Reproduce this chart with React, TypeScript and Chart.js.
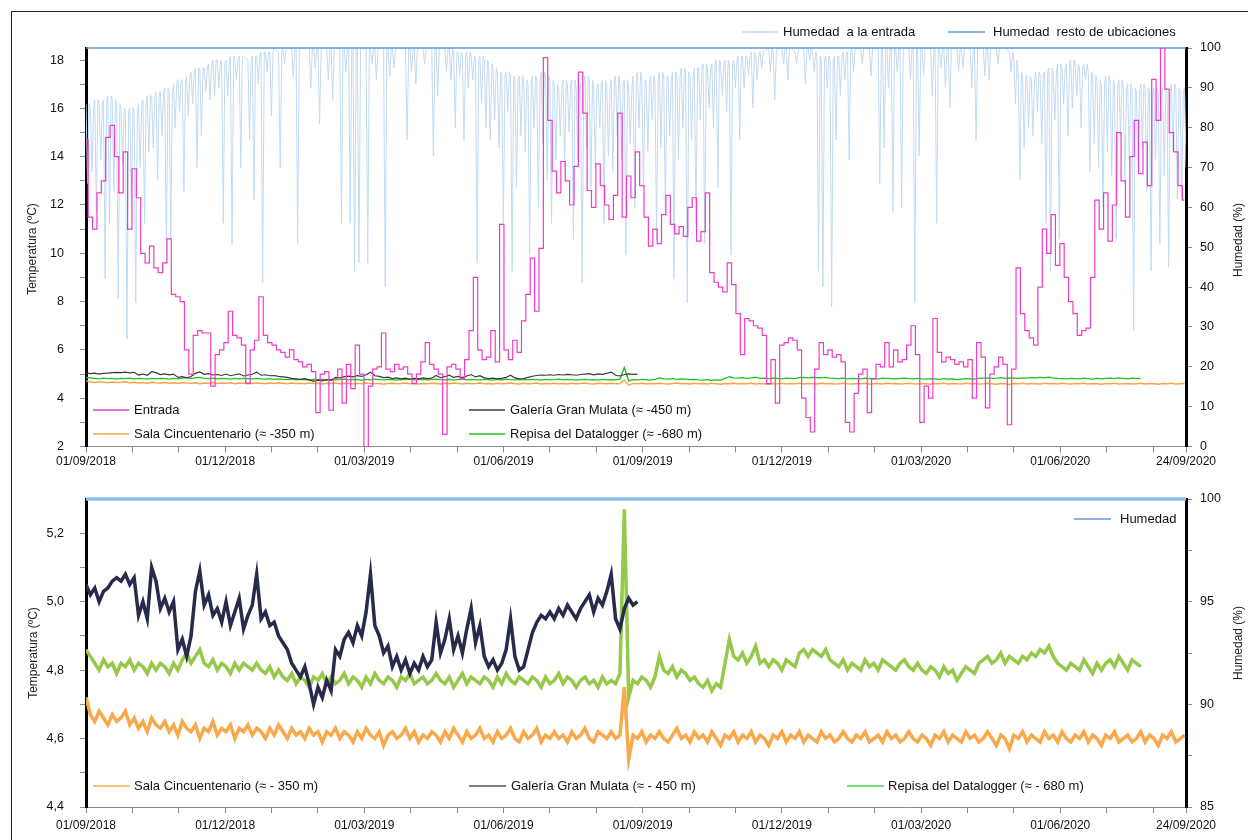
import React, { useEffect, useRef } from 'react';
import { Chart, registerables } from 'chart.js';

Chart.register(...registerables);

const FONT = '"Liberation Sans", Arial, Helvetica, sans-serif';
Chart.defaults.font.family = FONT;
Chart.defaults.color = '#222';

// ---------- DATA ----------
// one sample every DAY_STEP days, starting 01/09/2018
const DAY_STEP = 3;
const TOTAL_DAYS = 754; // 01/09/2018 -> 24/09/2020
const X_MINOR_STEP = 31.8; // days between axis tick marks

const xTickLabels = [
  '01/09/2018', '01/12/2018', '01/03/2019', '01/06/2019', '01/09/2019',
  '01/12/2019', '01/03/2020', '01/06/2020', '24/09/2020',
];

const seriesNames = {
  entrada: 'Entrada',
  humEntrada: 'Humedad  a la entrada',
  humResto: 'Humedad  resto de ubicaciones',
  salaTop: 'Sala Cincuentenario (≈ -350 m)',
  galeriaTop: 'Galería Gran Mulata (≈ -450 m)',
  repisaTop: 'Repisa del Datalogger (≈ -680 m)',
  salaBottom: 'Sala Cincuentenario (≈ - 350 m)',
  galeriaBottom: 'Galería Gran Mulata (≈ - 450 m)',
  repisaBottom: 'Repisa del Datalogger (≈ - 680 m)',
  humBottom: 'Humedad',
};

// Temperatura a la entrada (ºC)
const entradaTemp = [
  14.7, 11.5, 11.0, 12.5, 13.0, 14.8, 15.3, 14.0, 12.5, 14.2,
  11.0, 13.5, 12.3, 10.0, 9.6, 10.3, 9.4, 9.2, 9.6, 10.6,
  8.3, 8.2, 8.0, 6.0, 5.0, 6.6, 6.8, 6.7, 6.7, 4.5,
  5.8, 6.0, 6.3, 7.6, 6.6, 6.5, 6.2, 4.6, 6.0, 6.4,
  8.2, 6.6, 6.3, 6.2, 6.0, 5.9, 5.7, 6.0, 5.6, 5.5,
  5.3, 5.4, 5.1, 3.4, 5.0, 5.1, 3.5, 4.8, 5.2, 3.8,
  5.4, 4.4, 6.2, 5.0, 2.0, 4.5, 5.2, 5.3, 6.7, 5.2,
  5.1, 5.4, 5.2, 5.3, 5.0, 4.6, 5.0, 5.5, 6.3, 5.4,
  5.2, 5.0, 2.5, 5.3, 5.4, 5.2, 4.8, 5.6, 6.8, 9.0,
  6.0, 5.6, 5.7, 6.8, 5.5, 11.2, 6.0, 5.6, 6.4, 5.9,
  7.2, 8.3, 9.8, 7.6, 10.2, 18.1, 15.5, 13.4, 12.5, 13.8,
  13.0, 12.0, 13.6, 17.5, 15.8, 12.6, 11.9, 13.7, 12.8, 12.0,
  11.4, 12.4, 15.8, 11.5, 13.2, 12.3, 14.2, 12.8, 11.5, 10.3,
  11.0, 10.4, 11.6, 12.4, 11.2, 10.8, 11.1, 10.7, 11.9, 12.3,
  10.5, 10.9, 12.5, 9.2, 8.8, 8.6, 8.4, 9.6, 8.7, 7.5,
  5.8, 7.3, 7.2, 7.0, 6.9, 6.6, 4.6, 5.6, 3.8, 6.2,
  6.3, 6.5, 6.4, 6.0, 4.0, 3.2, 2.6, 5.2, 6.3, 5.8,
  6.0, 5.7, 5.8, 5.5, 3.0, 2.6, 4.2, 5.0, 5.2, 3.4,
  4.8, 5.4, 5.3, 6.3, 5.3, 6.0, 5.5, 5.6, 6.2, 7.0,
  5.8, 3.0, 4.5, 4.0, 7.3, 5.9, 5.5, 5.7, 5.6, 5.4,
  5.5, 5.3, 5.6, 4.0, 6.3, 5.7, 3.6, 5.0, 5.3, 5.7,
  5.4, 2.9, 5.2, 9.4, 7.5, 6.8, 6.5, 6.2, 8.6, 11.0,
  10.0, 11.6, 9.5, 10.4, 9.0, 8.0, 7.5, 6.6, 6.8, 6.9,
  9.0, 12.2, 11.0, 12.5, 10.5, 12.0, 15.0, 13.0, 11.5, 14.0,
  15.5, 13.3, 14.6, 12.8, 17.2, 15.5, 18.5, 16.8, 15.0, 14.2,
  12.8, 12.2,
];

// Humedad a la entrada (%): upper level of each sample
const humedadEntradaMax = [
  86, 85, 87, 86, 87, 88, 87, 86, 85, 84,
  85, 84, 86, 87, 88, 88, 89, 89, 90, 89,
  91, 92, 92, 93, 94, 95, 95, 95, 96, 97,
  97, 96, 97, 98, 97, 98, 98, 97, 98, 98,
  99, 99, 99, 100, 99, 100, 100, 100, 100, 100,
  100, 100, 100, 100, 100, 100, 100, 100, 100, 100,
  100, 100, 100, 100, 100, 100, 100, 100, 100, 100,
  100, 100, 100, 100, 100, 100, 100, 100, 100, 100,
  100, 100, 100, 100, 99, 99, 98, 99, 98, 97,
  98, 97, 96, 95, 94, 93, 94, 93, 92, 93,
  92, 91, 93, 92, 94, 93, 92, 91, 90, 92,
  91, 92, 90, 91, 93, 92, 90, 91, 92, 90,
  92, 93, 91, 92, 90, 93, 94, 92, 91, 93,
  92, 94, 93, 92, 94, 93, 95, 94, 93, 95,
  95, 96, 95, 96, 97, 96, 97, 96, 97, 98,
  98, 98, 99, 98, 99, 99, 100, 99, 100, 100,
  100, 100, 99, 100, 100, 100, 99, 98, 97, 98,
  97, 98, 98, 99, 99, 100, 100, 100, 100, 100,
  100, 100, 100, 100, 100, 100, 100, 100, 100, 100,
  100, 100, 100, 100, 100, 100, 100, 100, 100, 100,
  100, 100, 100, 100, 100, 100, 100, 100, 100, 100,
  100, 99, 97, 94, 93, 93, 92, 94, 93, 94,
  95, 94, 96, 95, 96, 97, 96, 95, 96, 94,
  93, 92, 91, 93, 92, 91, 92, 90, 91, 90,
  89, 91, 90, 89, 90, 88, 90, 89, 91, 90,
  89, 90,
];

// Humedad a la entrada (%): drop inside each sample (null = no drop)
const humedadEntradaMin = [
  66, 69, 59, 72, 42, 56, 64, 37, 71, 27,
  62, 36, 70, 56, 74, 75, 67, 78, 48, 52,
  80, 84, 64, 83, 86, 70, 78, 89, 87, 88,
  90, 56, 88, 51, 92, 70, null, 77, 62, 91,
  41, 94, 83, null, 70, 96, null, 93, 51, null,
  null, 90, 95, 81, null, 92, 87, null, 56, 94,
  56, 44, 46, null, 46, 96, 92, null, 40, 93,
  95, null, null, 77, 94, 91, null, 96, null, 73,
  88, null, 94, 92, 80, 93, 77, 90, 92, 46,
  86, 80, 77, 82, 75, 56, 84, 44, 65, 78,
  74, 48, 80, 60, 76, 67, 56, 72, 78, 70,
  79, 52, 72, 41, 75, 65, 70, 80, 56, 73,
  69, 78, 72, 48, 76, 60, 80, 65, 74, 82,
  52, 75, 59, 78, 42, 72, 80, 36, 77, 56,
  82, 51, 85, 80, 65, 88, 84, 48, 90, 77,
  90, 93, 85, 92, 95, null, 94, 87, null, 96,
  92, null, 96, null, 91, 97, 94, 44, 40, 90,
  35, 77, 88, 92, 72, 94, null, 96, null, 93,
  null, 66, 75, 90, 59, 94, 60, null, 92, 36,
  73, 93, null, 88, 56, 95, 90, 85, null, 94,
  95, null, 90, 77, null, 93, 92, null, 96, null,
  null, 94, 86, 67, 75, 80, 78, 84, 76, 56,
  44, 82, 52, 86, 78, 85, 88, 80, 92, 69,
  76, 70, 60, 74, 68, 52, 78, 66, 72, 29,
  70, 75, 64, 44, 72, 51, 68, 45, 74, 62,
  62, 70,
];

// Humedad resto de ubicaciones (%)
const humedadRestoDays = [0, 754];
const humedadResto = [100, 100];

// Galería Gran Mulata (ºC)
const galeriaTemp = [
  5.05, 5.02, 5.04, 5.00, 5.03, 5.04, 5.06, 5.07, 5.06, 5.08,
  5.05, 5.07, 4.96, 5.00, 4.95, 5.10, 5.06, 4.98, 5.01, 4.97,
  5.00, 4.86, 4.89, 4.84, 4.90, 5.03, 5.09, 4.99, 5.02, 4.96,
  4.98, 4.94, 5.00, 4.93, 4.97, 5.01, 4.92, 4.96, 4.99, 5.08,
  4.95, 4.97, 4.93, 4.94, 4.90, 4.88, 4.86, 4.82, 4.80, 4.78,
  4.81, 4.76, 4.70, 4.75, 4.72, 4.77, 4.74, 4.86, 4.84, 4.89,
  4.91, 4.88, 4.93, 4.90, 4.97, 5.08, 4.93, 4.90, 4.85, 4.87,
  4.81, 4.84, 4.80, 4.83, 4.79, 4.82, 4.80, 4.84, 4.81, 4.83,
  4.94, 4.85, 4.89, 4.95, 4.86, 4.90, 4.85, 4.92, 4.98, 4.88,
  4.93, 4.84, 4.81, 4.83, 4.80, 4.82, 4.86, 4.95, 4.84, 4.80,
  4.81, 4.86, 4.91, 4.94, 4.96, 4.95, 4.97, 4.95, 4.98, 4.96,
  4.99, 4.97, 4.95, 4.98, 5.00, 5.02, 4.97, 5.01, 4.99, 5.03,
  5.08, 4.95, 4.92, 4.98, 5.01, 4.99, 5.00,
];

// Sala Cincuentenario (ºC)
const salaTemp = [
  4.72, 4.67, 4.65, 4.68, 4.66, 4.64, 4.67, 4.65, 4.66, 4.68,
  4.64, 4.66, 4.63, 4.65, 4.62, 4.66, 4.64, 4.63, 4.65, 4.62,
  4.64, 4.61, 4.65, 4.63, 4.62, 4.64, 4.60, 4.63, 4.62, 4.65,
  4.61, 4.63, 4.62, 4.64, 4.60, 4.63, 4.62, 4.64, 4.61, 4.63,
  4.62, 4.60, 4.63, 4.61, 4.64, 4.62, 4.60, 4.63, 4.61, 4.62,
  4.60, 4.63, 4.61, 4.62, 4.59, 4.62, 4.61, 4.63, 4.60, 4.62,
  4.61, 4.59, 4.62, 4.60, 4.63, 4.61, 4.60, 4.62, 4.58, 4.61,
  4.62, 4.60, 4.61, 4.63, 4.60, 4.62, 4.59, 4.61, 4.60, 4.62,
  4.61, 4.59, 4.62, 4.60, 4.63, 4.61, 4.59, 4.62, 4.60, 4.61,
  4.63, 4.60, 4.61, 4.59, 4.62, 4.60, 4.61, 4.63, 4.60, 4.59,
  4.62, 4.60, 4.61, 4.63, 4.59, 4.61, 4.60, 4.62, 4.60, 4.61,
  4.59, 4.62, 4.60, 4.61, 4.63, 4.60, 4.59, 4.62, 4.61, 4.60,
  4.62, 4.60, 4.61, 4.75, 4.54, 4.61, 4.60, 4.62, 4.59, 4.61,
  4.60, 4.62, 4.60, 4.59, 4.61, 4.63, 4.60, 4.61, 4.59, 4.62,
  4.60, 4.61, 4.59, 4.62, 4.60, 4.58, 4.61, 4.60, 4.62, 4.59,
  4.61, 4.60, 4.62, 4.59, 4.61, 4.60, 4.58, 4.61, 4.60, 4.62,
  4.59, 4.61, 4.60, 4.62, 4.59, 4.61, 4.60, 4.59, 4.62, 4.60,
  4.61, 4.59, 4.60, 4.62, 4.60, 4.59, 4.61, 4.60, 4.62, 4.59,
  4.60, 4.61, 4.59, 4.62, 4.60, 4.61, 4.59, 4.60, 4.62, 4.60,
  4.59, 4.61, 4.60, 4.58, 4.61, 4.60, 4.62, 4.59, 4.61, 4.60,
  4.59, 4.62, 4.60, 4.61, 4.59, 4.60, 4.62, 4.60, 4.58, 4.61,
  4.60, 4.57, 4.61, 4.60, 4.62, 4.59, 4.61, 4.60, 4.59, 4.62,
  4.60, 4.61, 4.59, 4.62, 4.60, 4.59, 4.61, 4.60, 4.62, 4.59,
  4.61, 4.60, 4.58, 4.61, 4.60, 4.62, 4.59, 4.60, 4.61, 4.59,
  4.60, 4.62, 4.59, 4.61, 4.60, 4.58, 4.61, 4.60, 4.62, 4.59,
  4.60, 4.61,
];

// Repisa del Datalogger (ºC)
const repisaTemp = [
  4.86, 4.84, 4.82, 4.80, 4.83, 4.81, 4.82, 4.79, 4.82, 4.81,
  4.83, 4.80, 4.82, 4.81, 4.79, 4.82, 4.80, 4.82, 4.81, 4.79,
  4.82, 4.80, 4.83, 4.85, 4.82, 4.84, 4.86, 4.82, 4.81, 4.83,
  4.80, 4.82, 4.81, 4.79, 4.82, 4.80, 4.82, 4.81, 4.80, 4.82,
  4.80, 4.79, 4.81, 4.78, 4.80, 4.78, 4.77, 4.79, 4.76, 4.78,
  4.77, 4.75, 4.78, 4.77, 4.79, 4.76, 4.78, 4.76, 4.77, 4.79,
  4.76, 4.78, 4.77, 4.75, 4.78, 4.76, 4.79, 4.77, 4.76, 4.78,
  4.77, 4.75, 4.78, 4.77, 4.79, 4.76, 4.77, 4.78, 4.76, 4.77,
  4.79, 4.77, 4.76, 4.78, 4.75, 4.77, 4.79, 4.76, 4.78, 4.77,
  4.76, 4.78, 4.77, 4.75, 4.78, 4.76, 4.79, 4.77, 4.76, 4.78,
  4.77, 4.76, 4.78, 4.77, 4.75, 4.78, 4.76, 4.77, 4.79, 4.76,
  4.78, 4.77, 4.75, 4.77, 4.78, 4.76, 4.77, 4.75, 4.78, 4.76,
  4.77, 4.76, 4.79, 5.27, 4.72, 4.77, 4.76, 4.78, 4.77, 4.75,
  4.78, 4.84, 4.80, 4.79, 4.81, 4.78, 4.80, 4.79, 4.77, 4.78,
  4.76, 4.75, 4.77, 4.74, 4.76, 4.75, 4.82, 4.89, 4.84, 4.83,
  4.85, 4.82, 4.84, 4.87, 4.82, 4.83, 4.81, 4.83, 4.82, 4.80,
  4.83, 4.82, 4.81, 4.85, 4.86, 4.84, 4.86, 4.85, 4.84, 4.86,
  4.83, 4.82, 4.81, 4.83, 4.80, 4.82, 4.81, 4.80, 4.83, 4.81,
  4.82, 4.80, 4.83, 4.82, 4.81, 4.80, 4.82, 4.83, 4.81, 4.80,
  4.82, 4.80, 4.79, 4.81, 4.80, 4.78, 4.81, 4.79, 4.80, 4.77,
  4.79, 4.81, 4.80, 4.79, 4.82, 4.83, 4.84, 4.82, 4.83, 4.85,
  4.82, 4.84, 4.83, 4.82, 4.84, 4.83, 4.85, 4.84, 4.86, 4.85,
  4.87, 4.84, 4.82, 4.81, 4.80, 4.82, 4.81, 4.80, 4.83, 4.81,
  4.79, 4.82, 4.80, 4.82, 4.83, 4.81, 4.84, 4.82, 4.80, 4.83,
  4.82, 4.81,
];

// Humedad (lower chart) (%)
const humedadBottomDays = [0, 754];
const humedadBottom = [100, 100];

// ---------- HELPERS ----------
const toPoints = (arr: number[]) => arr.map((y, i) => ({ x: i * DAY_STEP, y }));
const pairPoints = (xs: number[], ys: number[]) => ys.map((y, i) => ({ x: xs[i], y }));
// each sample: its upper level, then (if any) its drop and return
const rangePoints = (maxs: number[], mins: (number | null)[]) => {
  const pts: { x: number; y: number }[] = [];
  maxs.forEach((v, i) => {
    const d = i * DAY_STEP;
    pts.push({ x: d, y: v });
    const m = mins[i];
    if (m !== null && m !== undefined) {
      pts.push({ x: d + 1.1, y: m });
      pts.push({ x: d + 2.2, y: v });
    }
  });
  return pts;
};

const buildXTicks = () => {
  const t: { value: number }[] = [];
  for (let k = 0; k * X_MINOR_STEP < TOTAL_DAYS - 10; k++) t.push({ value: k * X_MINOR_STEP });
  t.push({ value: TOTAL_DAYS });
  return t;
};
const xLabel = (value: number, index: number) => {
  if (value === TOTAL_DAYS) return xTickLabels[xTickLabels.length - 1];
  if (index % 3 === 0 && index / 3 < xTickLabels.length - 1) return xTickLabels[index / 3];
  return '';
};

const overlayPlugin = {
  id: 'overlay',
  afterDraw(chart: any, _args: any, opts: any) {
    const ctx = chart.ctx;
    ctx.save();
    ctx.font = `13px ${FONT}`;
    ctx.textBaseline = 'middle';
    ctx.textAlign = 'left';
    for (const it of opts.items || []) {
      ctx.strokeStyle = it.color;
      ctx.lineWidth = it.lw || 1.5;
      ctx.beginPath();
      ctx.moveTo(it.x1, it.y);
      ctx.lineTo(it.x2, it.y);
      ctx.stroke();
      ctx.fillStyle = '#111';
      ctx.fillText(it.text, it.tx, it.y + 0.5);
    }
    ctx.font = `12px ${FONT}`;
    ctx.textAlign = 'center';
    for (const t of opts.titles || []) {
      ctx.save();
      ctx.translate(t.x, t.y);
      ctx.rotate(-Math.PI / 2);
      ctx.fillStyle = '#222';
      ctx.fillText(t.text, 0, 0);
      ctx.restore();
    }
    ctx.restore();
  },
};

const xAxis = (height: number, padding: number) => ({
  type: 'linear',
  min: 0,
  max: TOTAL_DAYS,
  afterBuildTicks: (s: any) => { s.ticks = buildXTicks(); },
  afterFit: (s: any) => { s.height = height; },
  ticks: { autoSkip: false, maxRotation: 0, minRotation: 0, padding, color: '#111', font: { size: 12 }, callback: xLabel },
  grid: { drawOnChartArea: false, drawTicks: true, tickLength: 6, color: '#8a8a8a', lineWidth: 1 },
  border: { display: true, color: '#8a8a8a', width: 1 },
});

const yAxis = (position: string, min: number, max: number, ticks: number[], width: number, padding: number, label: (v: number) => string) => ({
  type: 'linear',
  position,
  min,
  max,
  afterBuildTicks: (s: any) => { s.ticks = ticks.map((v) => ({ value: v })); },
  afterFit: (s: any) => { s.width = width; },
  ticks: { autoSkip: false, padding, color: '#111', font: { size: 12.5 }, callback: (v: number) => label(v) },
  grid: { drawOnChartArea: false, drawTicks: true, tickLength: 6, color: '#8a8a8a', lineWidth: 1 },
  border: { display: true, color: '#000', width: 3 },
});

const tempTicksTop = [2, 3, 4, 5, 6, 7, 8, 9, 10, 11, 12, 13, 14, 15, 16, 17, 18];
const humTicksTop = [0, 10, 20, 30, 40, 50, 60, 70, 80, 90, 100];
const tempTicksBottom = [4.4, 4.5, 4.6, 4.7, 4.8, 4.9, 5.0, 5.1, 5.2];
const humTicksBottom = [85, 87.5, 90, 92.5, 95, 97.5, 100];

const line = (label: string, data: any[], color: string, width: number, yAxisID: string, extra: any = {}) => ({
  label, data, borderColor: color, backgroundColor: color, borderWidth: width,
  pointRadius: 0, tension: 0, fill: false, yAxisID, ...extra,
});

const topConfig = (): any => ({
  type: 'line',
  data: {
    datasets: [
      line(seriesNames.entrada, toPoints(entradaTemp), '#ee3cc6', 1.2, 'yT', { stepped: 'middle' }),
      line(seriesNames.galeriaTop, toPoints(galeriaTemp), '#3a3a3a', 1.2, 'yT'),
      line(seriesNames.repisaTop, toPoints(repisaTemp), '#1fc21f', 1.4, 'yT'),
      line(seriesNames.salaTop, toPoints(salaTemp), '#f7a545', 1.4, 'yT'),
      line(seriesNames.humResto, pairPoints(humedadRestoDays, humedadResto), '#5b9bd5', 1.5, 'yH', { clip: 4 }),
      line(seriesNames.humEntrada, rangePoints(humedadEntradaMax, humedadEntradaMin), '#c3daf0', 1, 'yH'),
    ],
  },
  options: {
    animation: false,
    responsive: false,
    layout: { padding: { top: 48, left: 0, right: 0, bottom: 0 } },
    plugins: {
      legend: { display: false },
      tooltip: { enabled: false },
      overlay: {
        items: [
          { x1: 742, x2: 778, tx: 783, y: 32, color: '#c3daf0', text: seriesNames.humEntrada },
          { x1: 948, x2: 985, tx: 993, y: 32, color: '#5b9bd5', text: seriesNames.humResto },
          { x1: 93, x2: 129, tx: 134, y: 410, color: '#ee3cc6', text: seriesNames.entrada },
          { x1: 93, x2: 129, tx: 134, y: 434, color: '#f7a545', text: seriesNames.salaTop },
          { x1: 469, x2: 505, tx: 510, y: 410, color: '#3a3a3a', text: seriesNames.galeriaTop },
          { x1: 469, x2: 505, tx: 510, y: 434, color: '#1fc21f', text: seriesNames.repisaTop },
        ],
        titles: [
          { x: 33, y: 249, text: 'Temperatura (ºC)' },
          { x: 1239, y: 240, text: 'Humedad (%)' },
        ],
      },
    },
    scales: {
      x: xAxis(20, 2),
      yT: yAxis('left', 2, 18.5, tempTicksTop, 86, 16, (v) => (v % 2 === 0 ? String(v) : '')),
      yH: yAxis('right', 0, 100, humTicksTop, 62, 8, (v) => String(v)),
    },
  },
  plugins: [overlayPlugin],
});

const bottomConfig = (): any => ({
  type: 'line',
  data: {
    datasets: [
      line(seriesNames.galeriaBottom, toPoints(galeriaTemp), '#272b4b', 3.5, 'yT'),
      line(seriesNames.repisaBottom, toPoints(repisaTemp), '#96c84a', 3.5, 'yT'),
      line(seriesNames.salaBottom, toPoints(salaTemp), '#f9a94b', 3.5, 'yT'),
      line(seriesNames.humBottom, pairPoints(humedadBottomDays, humedadBottom), '#86c3ea', 3.5, 'yH', { clip: 4 }),
    ],
  },
  options: {
    animation: false,
    responsive: false,
    layout: { padding: { top: 29, left: 0, right: 0, bottom: 0 } },
    plugins: {
      legend: { display: false },
      tooltip: { enabled: false },
      overlay: {
        items: [
          { x1: 93, x2: 130, tx: 134, y: 316, color: '#f9a94b', text: seriesNames.salaBottom },
          { x1: 469, x2: 506, tx: 511, y: 316, color: '#555555', text: seriesNames.galeriaBottom },
          { x1: 847, x2: 884, tx: 888, y: 316, color: '#44d844', text: seriesNames.repisaBottom },
          { x1: 1074, x2: 1111, tx: 1120, y: 49, color: '#5b9bd5', text: seriesNames.humBottom },
        ],
        titles: [
          { x: 34, y: 183, text: 'Temperatura (ºC)' },
          { x: 1239, y: 173, text: 'Humedad (%)' },
        ],
      },
    },
    scales: {
      x: xAxis(33, 5),
      yT: yAxis('left', 4.4, 5.3, tempTicksBottom, 86, 16, (v) =>
        Math.round(v * 10) % 2 === 0 ? v.toFixed(1).replace('.', ',') : ''),
      yH: yAxis('right', 85, 100, humTicksBottom, 62, 8, (v) => (Number.isInteger(v) && v % 5 === 0 ? String(v) : '')),
    },
  },
  plugins: [overlayPlugin],
});

function ChartCanvas({ config, top, height }: { config: () => any; top: number; height: number }) {
  const ref = useRef<HTMLCanvasElement | null>(null);
  useEffect(() => {
    if (!ref.current) return;
    const chart = new Chart(ref.current, config());
    return () => chart.destroy();
  }, [config]);
  return (
    <canvas
      ref={ref}
      width={1248}
      height={height}
      style={{ position: 'absolute', left: 0, top, width: 1248, height, display: 'block' }}
    />
  );
}

export default function App() {
  return (
    <div style={{ position: 'absolute', left: 0, top: 0, width: 1248, height: 840, background: '#fff', overflow: 'hidden' }}>
      <div style={{ position: 'absolute', left: 11, top: 11, width: 1300, height: 900, border: '1px solid #222', boxSizing: 'border-box' }} />
      <ChartCanvas config={topConfig} top={0} height={470} />
      <ChartCanvas config={bottomConfig} top={470} height={370} />
    </div>
  );
}
